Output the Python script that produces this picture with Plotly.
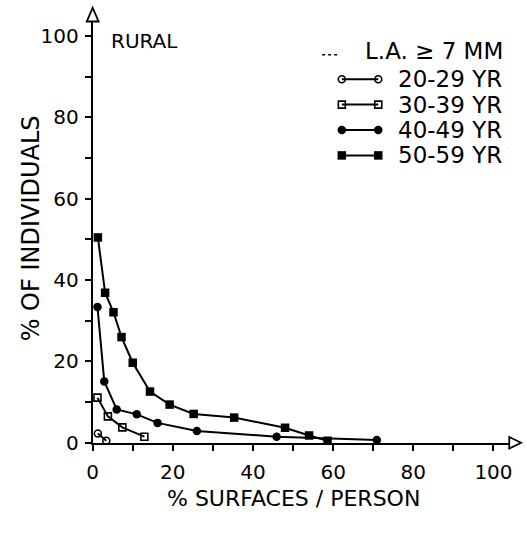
import plotly.graph_objects as go

# ---- data ----
x_20_29 = [1.3, 3.4]
y_20_29 = [2.3, 0.5]

x_30_39 = [1.2, 3.8, 7.4, 12.9]
y_30_39 = [11.1, 6.5, 3.8, 1.5]

x_40_49 = [1.2, 2.9, 6.0, 11.0, 16.2, 26.0, 45.9, 70.9]
y_40_49 = [33.4, 15.1, 8.2, 7.0, 4.9, 2.9, 1.5, 0.7]

x_50_59 = [1.3, 3.1, 5.2, 7.2, 10.0, 14.3, 19.2, 25.2, 35.3, 48.0, 54.0, 58.6]
y_50_59 = [50.5, 36.9, 32.1, 26.0, 19.7, 12.6, 9.4, 7.1, 6.2, 3.7, 1.8, 0.5]

series_names = ["20-29 YR", "30-39 YR", "40-49 YR", "50-59 YR"]
tick_vals = [0, 10, 20, 30, 40, 50, 60, 70, 80, 90, 100]
tick_text = ["0", "", "20", "", "40", "", "60", "", "80", "", "100"]

W, H = 527, 533
FONT = "DejaVu Sans, Liberation Sans, sans-serif"

styles = [
    dict(symbol="circle-open", size=7, line=dict(width=1.6, color="black"), color="black"),
    dict(symbol="square-open", size=7, line=dict(width=1.6, color="black"), color="black"),
    dict(symbol="circle", size=8.5, color="black"),
    dict(symbol="square", size=8.5, color="black"),
]
xs = [x_20_29, x_30_39, x_40_49, x_50_59]
ys = [y_20_29, y_30_39, y_40_49, y_50_59]

fig = go.Figure()
for name, xv, yv, st in zip(series_names, xs, ys, styles):
    fig.add_trace(go.Scatter(x=xv, y=yv, mode="lines+markers", name=name,
                             line=dict(color="black", width=2),
                             marker=st, cliponaxis=False, showlegend=False,
                             xaxis="x", yaxis="y"))

# ---- custom legend drawn on a full-figure pixel axis ----
leg_rows = [81, 107, 133, 159]
for name, st, ry in zip(series_names, styles, leg_rows):
    fig.add_trace(go.Scatter(x=[341, 378], y=[ry, ry], mode="lines+markers",
                             line=dict(color="black", width=2), marker=st,
                             showlegend=False, hoverinfo="skip",
                             xaxis="x2", yaxis="y2", cliponaxis=False))
    fig.add_annotation(x=396, y=ry, xref="x2", yref="y2", text=name,
                       showarrow=False, xanchor="left", yanchor="middle",
                       font=dict(family=FONT, size=23, color="black"))
fig.add_annotation(x=362, y=52, xref="x2", yref="y2", text="L.A. ≥ 7 MM",
                   showarrow=False, xanchor="left", yanchor="middle",
                   font=dict(family=FONT, size=23, color="black"))
fig.add_shape(type="line", x0=321, x1=338, y0=56, y1=56, xref="x2", yref="y2",
              line=dict(color="black", width=1.5, dash="dot"))

fig.add_annotation(x=105, y=42, xref="x2", yref="y2", text="RURAL",
                   showarrow=False, xanchor="left", yanchor="middle",
                   font=dict(family=FONT, size=20, color="black"))

# axis titles
fig.add_annotation(x=292, y=510, xref="x2", yref="y2", text="% SURFACES / PERSON",
                   showarrow=False, xanchor="center", yanchor="middle",
                   font=dict(family=FONT, size=22, color="black"))
fig.add_annotation(x=25, y=234, xref="x2", yref="y2", text="% OF INDIVIDUALS",
                   showarrow=False, xanchor="center", yanchor="middle", textangle=-90,
                   font=dict(family=FONT, size=24, color="black"))

# arrowheads (open triangles)
fig.add_shape(type="path", path="M 511 447 L 523 453 L 511 459 Z", xref="x2", yref="y2",
              line=dict(color="black", width=1.8), fillcolor="white")
fig.add_shape(type="path", path="M 82 22 L 88 8 L 94 22 Z", xref="x2", yref="y2",
              line=dict(color="black", width=1.8), fillcolor="white")

x0px, y0px, sx, sy = 88, 453, 4.07, 4.16
xmax, ymax = 104.2, 103.6
axis_common = dict(showline=True, linecolor="black", linewidth=2, showgrid=False,
                   zeroline=False, ticks="outside", ticklen=6, tickwidth=1.5,
                   tickcolor="black", tickvals=tick_vals, ticktext=tick_text,
                   tickfont=dict(family=FONT, size=20, color="black"))

fig.update_layout(
    width=W, height=H, margin=dict(l=0, r=0, t=0, b=0),
    paper_bgcolor="white", plot_bgcolor="rgba(0,0,0,0)",
    xaxis=dict(range=[0, xmax], domain=[x0px / W, (x0px + xmax * sx) / W],
               anchor="y", ticklabelstandoff=4, **axis_common),
    yaxis=dict(range=[0, ymax], domain=[1 - y0px / H, 1 - (y0px - ymax * sy) / H],
               anchor="x", ticklabelstandoff=2, **axis_common),
    xaxis2=dict(range=[0, W], domain=[0, 1], visible=False, anchor="y2", fixedrange=True),
    yaxis2=dict(range=[H, 0], domain=[0, 1], visible=False, anchor="x2", fixedrange=True),
    showlegend=False,
)

fig.write_html("out.html")
